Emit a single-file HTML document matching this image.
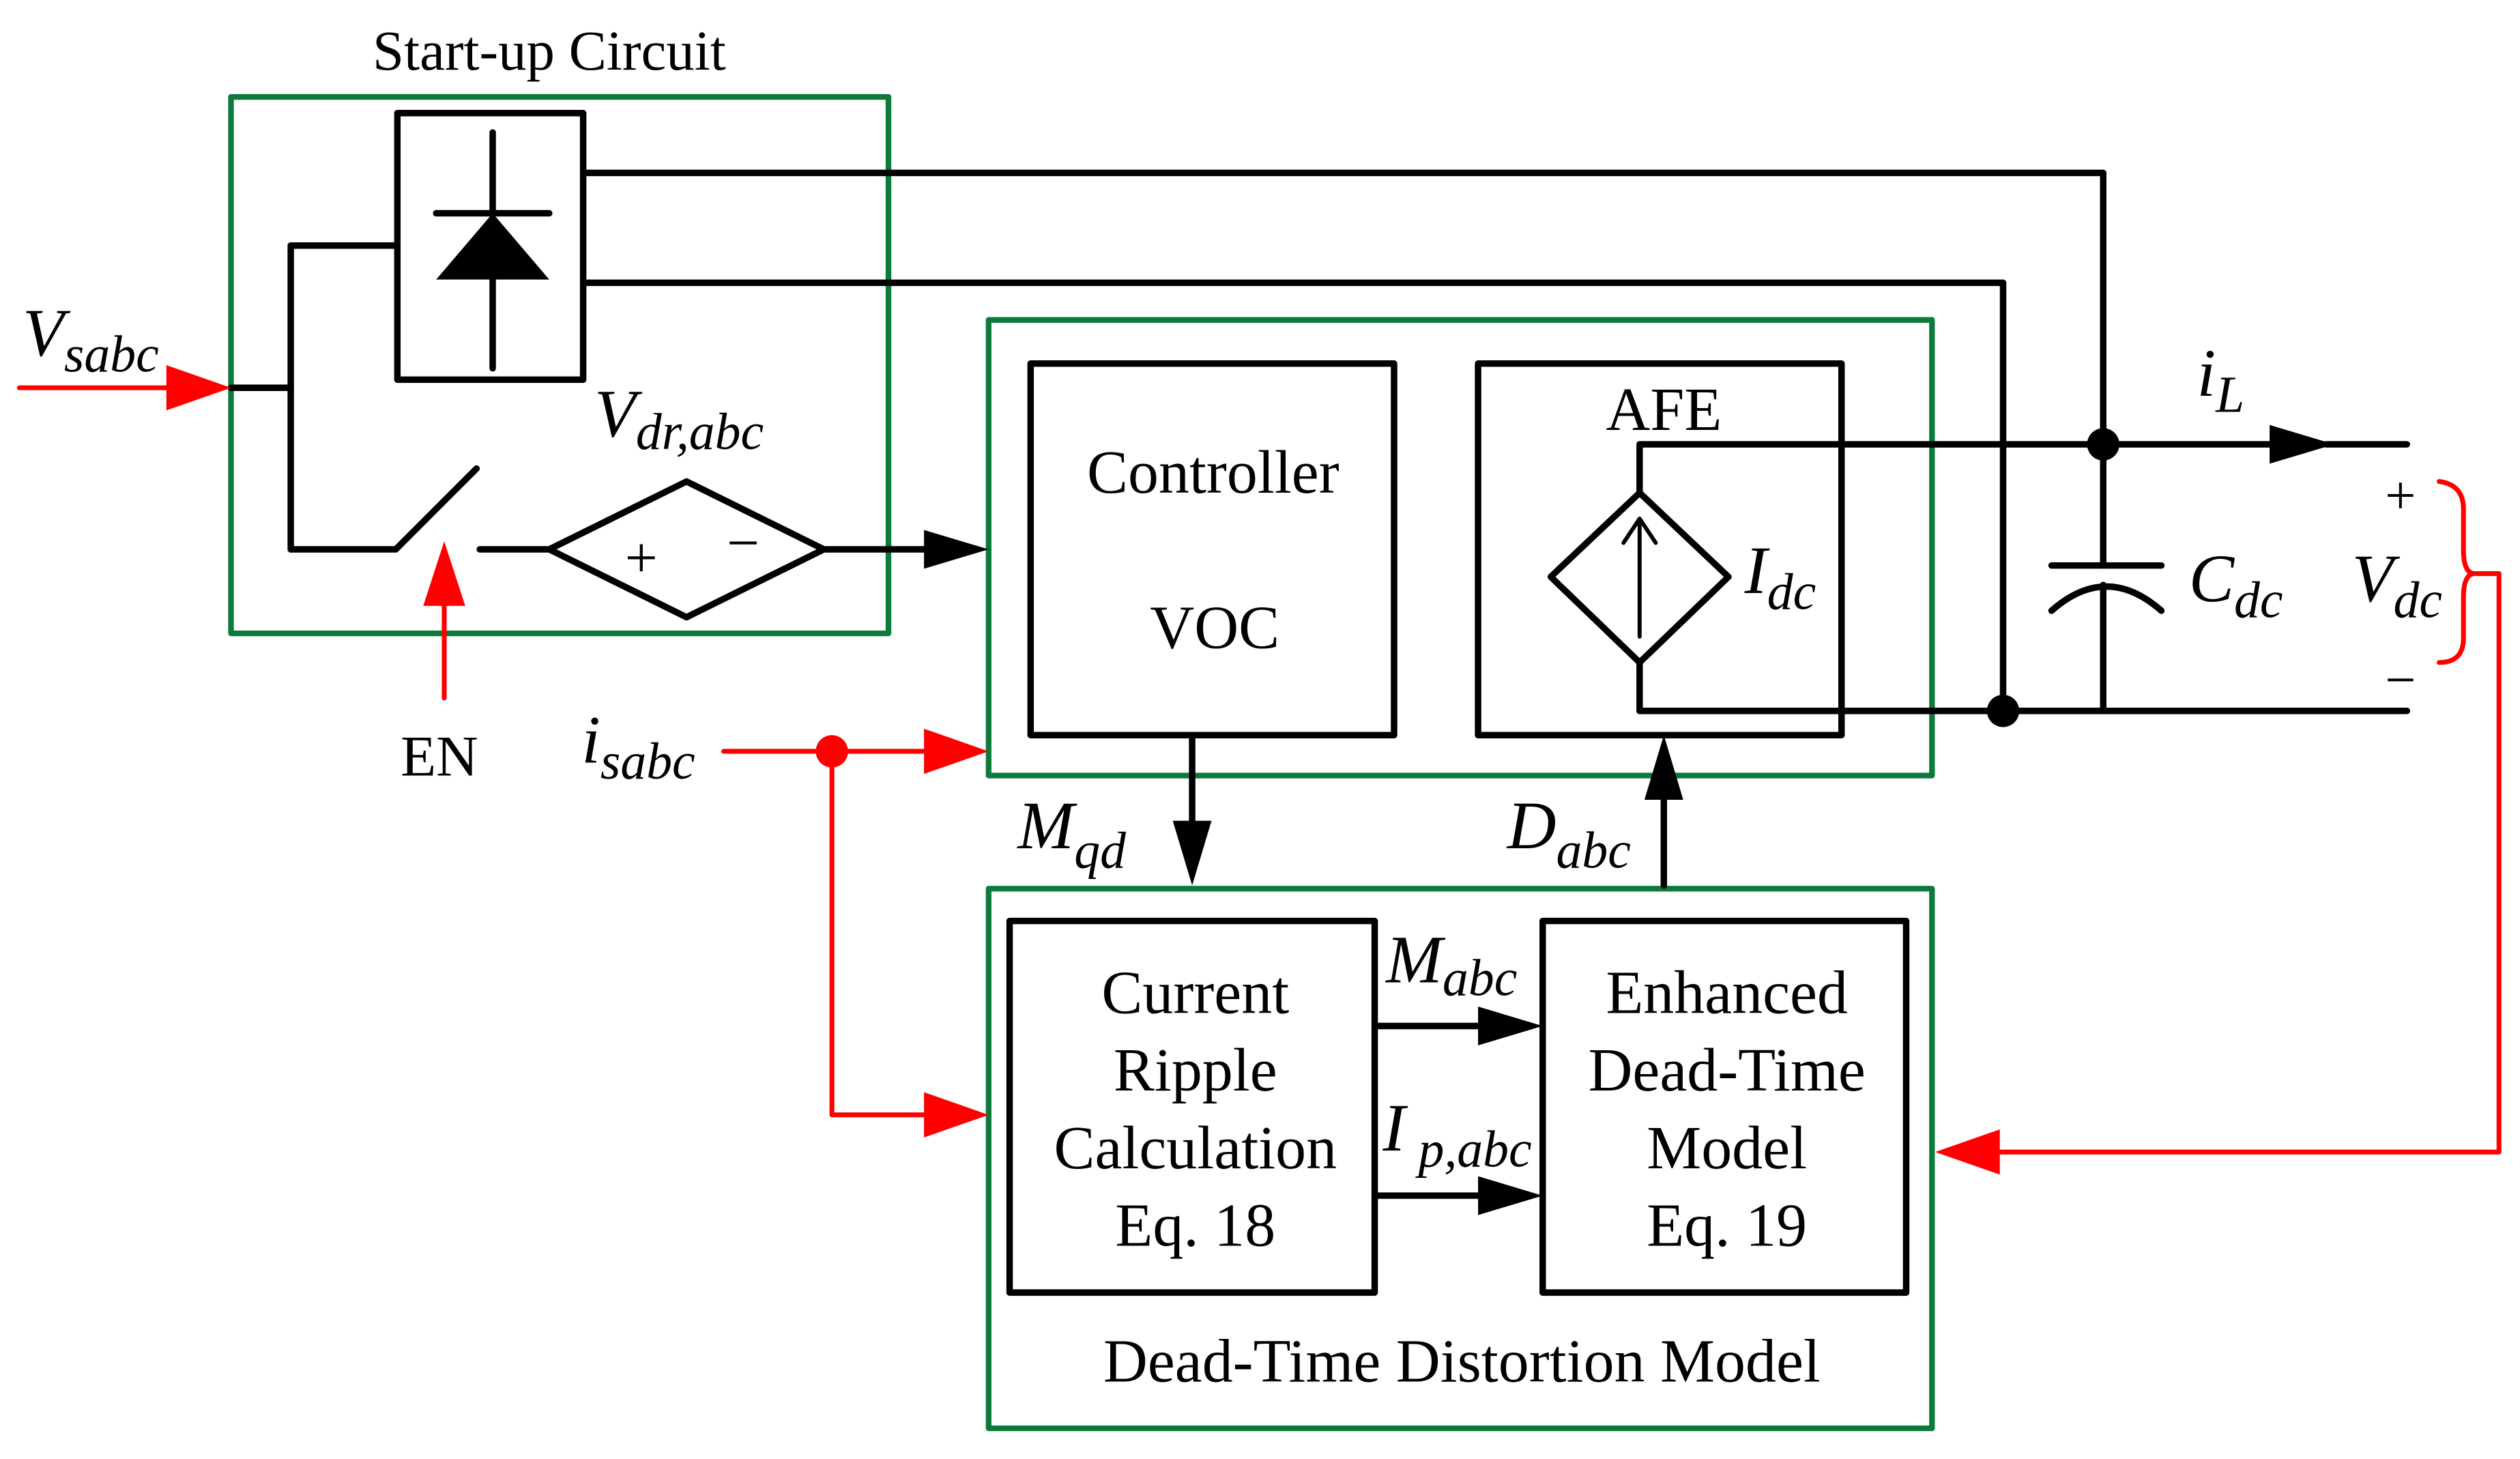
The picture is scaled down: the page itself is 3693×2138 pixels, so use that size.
<!DOCTYPE html>
<html><head><meta charset="utf-8"><style>
html,body{margin:0;padding:0;background:#fff;}
svg{display:block;}
text{font-family:"Liberation Serif",serif;fill:#000;}
.it{font-style:italic;}
</style></head><body>
<svg width="3693" height="2138" viewBox="0 0 1560 903" preserveAspectRatio="none" xmlns="http://www.w3.org/2000/svg">
<g fill="none" stroke-linejoin="round" stroke-linecap="round">
<rect x="143" y="60" width="407" height="332" stroke="#0b7a3a" stroke-width="3.5"/>
<rect x="612" y="198" width="584" height="282" stroke="#0b7a3a" stroke-width="3.5"/>
<rect x="612" y="550" width="584" height="334" stroke="#0b7a3a" stroke-width="3.5"/>
<g stroke="#000" stroke-width="4">
<rect x="246" y="70" width="115" height="165"/>
<line x1="305" y1="82" x2="305" y2="132"/>
<line x1="305" y1="173" x2="305" y2="228"/>
<line x1="270" y1="132" x2="340" y2="132"/>
<line x1="361" y1="107" x2="1302" y2="107"/>
<line x1="1302" y1="107" x2="1302" y2="350"/>
<line x1="361" y1="175" x2="1240" y2="175"/>
<line x1="1240" y1="175" x2="1240" y2="440"/>
<line x1="143" y1="240" x2="180" y2="240"/>
<line x1="180" y1="152" x2="180" y2="340"/>
<line x1="180" y1="152" x2="246" y2="152"/>
<line x1="180" y1="340" x2="245" y2="340"/>
<line x1="245" y1="340" x2="295" y2="290"/>
<line x1="297" y1="340" x2="340" y2="340"/>
<polygon points="340,340 425,298 510,340 425,382"/>
<line x1="510" y1="340" x2="575" y2="340"/>
<rect x="638" y="225" width="225" height="230"/>
<rect x="915" y="225" width="225" height="230"/>
<polygon points="1015,305 1070,357 1015,410 960,357"/>
<line x1="1015" y1="305" x2="1015" y2="275"/>
<line x1="1015" y1="275" x2="1410" y2="275"/>
<line x1="1440" y1="275" x2="1490" y2="275"/>
<line x1="1015" y1="410" x2="1015" y2="440"/>
<line x1="1015" y1="440" x2="1490" y2="440"/>
<line x1="1270" y1="350" x2="1338" y2="350"/>
<path d="M1270,378 Q1304,348 1338,378"/>
<line x1="1302" y1="362" x2="1302" y2="440"/>
<line x1="738" y1="455" x2="738" y2="515"/>
<line x1="1030" y1="548" x2="1030" y2="490"/>
<rect x="625" y="570" width="226" height="230"/>
<rect x="955" y="570" width="225" height="230"/>
<line x1="851" y1="635" x2="915" y2="635"/>
<line x1="851" y1="740" x2="915" y2="740"/>
</g>
<g stroke="#000" stroke-width="2.5">
<line x1="1015" y1="394" x2="1015" y2="322"/>
<polyline points="1005,336 1015,321 1025,336"/>
</g>
<g stroke="#f00" stroke-width="3">
<line x1="12" y1="240" x2="105" y2="240"/>
<line x1="275" y1="432" x2="275" y2="370"/>
<line x1="448" y1="465" x2="575" y2="465"/>
<polyline points="515,465 515,690 575,690"/>
<path d="M1510,298 Q1525,300 1525,315 L1525,340 Q1525,355 1532,355 Q1525,355 1525,370 L1525,395 Q1525,410 1510,410"/>
<polyline points="1532,355 1547,355 1547,713 1235,713"/>
</g>
</g>
<g fill="#000">
<polygon points="612,340 572,328 572,352"/>
<polygon points="1445,275 1405,263 1405,287"/>
<polygon points="738,548 726,508 750,508"/>
<polygon points="1030,455 1018,495 1042,495"/>
<polygon points="955,635 915,623 915,647"/>
<polygon points="955,740 915,728 915,752"/>
<polygon points="270,173 305,132 340,173"/>
<circle cx="1302" cy="275" r="10"/>
<circle cx="1240" cy="440" r="10"/>
</g>
<g fill="#f00">
<polygon points="143,240 103,226 103,254"/>
<polygon points="275,335 262,375 288,375"/>
<polygon points="612,465 572,451 572,479"/>
<polygon points="612,690 572,676 572,704"/>
<polygon points="1198,713 1238,699 1238,727"/>
<circle cx="515" cy="465" r="10"/>
</g>
<g font-size="38">
<text x="340" y="43" text-anchor="middle" font-size="35">Start-up Circuit</text>
<text x="14" y="220" class="it" font-size="42">V<tspan font-size="32" dy="10">sabc</tspan></text>
<text x="368" y="270" class="it" font-size="42">V<tspan font-size="32" dy="8">dr,abc</tspan></text>
<text x="397" y="357" text-anchor="middle" font-size="36">+</text>
<text x="460" y="348" text-anchor="middle" font-size="36">−</text>
<text x="272" y="480" text-anchor="middle" font-size="36">EN</text>
<text x="360" y="472" class="it" font-size="42">i<tspan font-size="32" dy="10">sabc</tspan></text>
<text x="751" y="305" text-anchor="middle">Controller</text>
<text x="752" y="401" text-anchor="middle">VOC</text>
<text x="1030" y="266" text-anchor="middle">AFE</text>
<text x="1080" y="367" class="it" font-size="42">I<tspan font-size="32" dy="10">dc</tspan></text>
<text x="1355" y="372" class="it" font-size="42">C<tspan font-size="32" dy="10">dc</tspan></text>
<text x="1360" y="245" class="it" font-size="42">i<tspan font-size="32" dy="10">L</tspan></text>
<text x="1486" y="318" text-anchor="middle" font-size="34">+</text>
<text x="1486" y="432" text-anchor="middle" font-size="34">−</text>
<text x="1456" y="372" class="it" font-size="42">V<tspan font-size="32" dy="10">dc</tspan></text>
<text x="630" y="525" class="it" font-size="42">M<tspan font-size="32" dy="12">qd</tspan></text>
<text x="933" y="525" class="it" font-size="42">D<tspan font-size="32" dy="12">abc</tspan></text>
<text x="858" y="608" class="it" font-size="42">M<tspan font-size="32" dy="8">abc</tspan></text>
<text x="856" y="712" class="it" font-size="42">I<tspan font-size="32" dy="10"> p,abc</tspan></text>
<text x="740" y="627" text-anchor="middle">Current</text>
<text x="740" y="675" text-anchor="middle">Ripple</text>
<text x="740" y="723" text-anchor="middle">Calculation</text>
<text x="740" y="771" text-anchor="middle">Eq. 18</text>
<text x="1069" y="627" text-anchor="middle">Enhanced</text>
<text x="1069" y="675" text-anchor="middle">Dead-Time</text>
<text x="1069" y="723" text-anchor="middle">Model</text>
<text x="1069" y="771" text-anchor="middle">Eq. 19</text>
<text x="905" y="855" text-anchor="middle">Dead-Time Distortion Model</text>
</g>
</svg>
</body></html>
